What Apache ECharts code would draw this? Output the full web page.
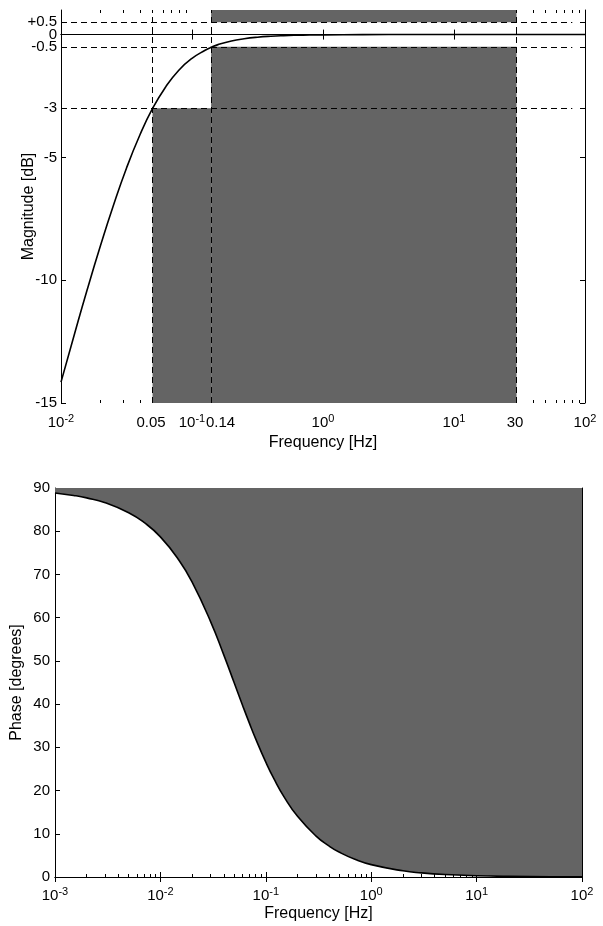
<!DOCTYPE html>
<html>
<head>
<meta charset="utf-8">
<script src="https://cdn.jsdelivr.net/npm/echarts@6/dist/echarts.min.js"></script>
<style>
html,body{margin:0;padding:0;background:#fff;}
#chart{width:603px;height:926px;}
</style>
</head>
<body>
<div id="chart"></div>
<script>
// ---- Magnitude response (top) ----
var magFreq = [0.01, 0.0126, 0.0158, 0.02, 0.025, 0.0316, 0.04, 0.05, 0.063, 0.079, 0.1, 0.126, 0.14, 0.158, 0.2, 0.25, 0.316, 0.4, 0.5, 0.63, 0.79, 1, 2, 5, 10, 30, 100];
var magDb   = [-14.15, -12.24, -10.41, -8.6, -6.99, -5.44, -4.09, -3.01, -2.13, -1.46, -0.97, -0.64, -0.52, -0.41, -0.26, -0.17, -0.107, -0.067, -0.043, -0.027, -0.017, -0.011, -0.003, 0, 0, 0, 0];

// ---- Phase response (bottom) ----
var phaseFreq = [0.001, 0.0015, 0.002, 0.003, 0.005, 0.007, 0.01, 0.015, 0.02, 0.03, 0.04, 0.05, 0.06, 0.07, 0.08, 0.1, 0.12, 0.15, 0.2, 0.3, 0.4, 0.5, 0.7, 1, 2, 3, 5, 10, 20, 50, 100];
var phaseDeg  = [88.85, 88.28, 87.71, 86.57, 84.29, 82.03, 78.69, 73.3, 68.2, 59.04, 51.34, 45, 39.81, 35.54, 32.01, 26.57, 22.62, 18.43, 14.04, 9.46, 7.13, 5.71, 4.09, 2.86, 1.43, 0.95, 0.57, 0.29, 0.14, 0.057, 0.029];

// ---- Tolerance mask (grey forbidden zones) [fLow, fHigh, dbLow, dbHigh] ----
var maskZones = [[0.05, 0.14, -15, -3], [0.14, 30, -15, -0.5], [0.14, 30, 0.5, 1]];
// dashed guide lines
var hGuides = [0.5, -0.5, -3];      // dB
var hGuideEnd = 80;                 // Hz
var vGuides = [0.05, 0.14, 30];     // Hz

// ---- Tick labels ----
var magXTicks = [0.01, 0.05, 0.1, 0.14, 1, 10, 30, 100];
var magYTicks = [-15, -10, -5, -3, -0.5, 0, 0.5];
var magYLabelOrder = [0.5, -3, 0, -15, -10, -5, -0.5];
var phaseXTicks = [0.001, 0.01, 0.1, 1, 10, 100];
var phaseYMin = 0, phaseYMax = 90, phaseYStep = 10;
var magYMin = -15, magYMax = 1;

function minorTicks(lo, hi) {
  var out = [];
  for (var e = lo; e < hi; e++) {
    for (var m = 2; m <= 9; m++) out.push(m * Math.pow(10, e));
  }
  return out;
}
var magMinor = minorTicks(-2, 2);
var phaseMinor = minorTicks(-3, 2);
var magMajor = [0.01, 0.1, 1, 10, 100];

var FONT = '"Liberation Sans", Arial, sans-serif';
var TITLE = {fontSize: 16, fontFamily: FONT, color: '#000'};
var rich = {
  b: {fontSize: 15, fontFamily: FONT, color: '#000'},
  s: {fontSize: 11, fontFamily: FONT, color: '#000', padding: [0, 0, 9, 0]},
  o: {fontSize: 15, fontFamily: FONT, color: '#000', padding: [0, 0, 0, 22]}
};
function xFmt(v) {
  var e = Math.round(Math.log(v) / Math.LN10);
  if (Math.abs(v - Math.pow(10, e)) < 1e-9 * v) return '{b|10}{s|' + e + '}';
  if (Math.abs(v - 0.14) < 1e-9) return '{o|0.14}{s| }';
  return '{b|' + v + '}{s| }';
}

var AXC = '#000';
function logX(grid, min, max, opts) {
  var base = {
    type: 'log', gridIndex: grid, min: min, max: max, logBase: 10,
    position: opts.position,
    axisLine: {show: opts.line, lineStyle: {color: AXC, width: 1}},
    axisTick: {show: true, inside: true, length: opts.len, customValues: opts.ticks, lineStyle: {color: AXC}},
    axisLabel: {show: false},
    splitLine: {show: false}, minorTick: {show: false}, minorSplitLine: {show: false}
  };
  if (opts.labels) {
    base.axisLabel = {show: true, customValues: opts.labels, formatter: xFmt, rich: rich, margin: opts.margin,
      color: '#000', hideOverlap: false, showMinLabel: true, showMaxLabel: true};
    base.name = 'Frequency [Hz]';
    base.nameLocation = 'middle';
    base.nameGap = opts.nameGap;
    base.nameMoveOverlap = false;
    base.nameTextStyle = TITLE;
  }
  return base;
}

var xAxes = [
  logX(0, 0.01, 100, {position: 'bottom', line: true, len: 5, ticks: magXTicks, labels: magXTicks, margin: 10, nameGap: 32}),
  logX(0, 0.01, 100, {position: 'top', line: true, len: 5, ticks: magMajor}),
  logX(0, 0.01, 100, {position: 'bottom', line: false, len: 3, ticks: magMinor}),
  logX(0, 0.01, 100, {position: 'top', line: false, len: 3, ticks: magMinor}),
  logX(1, 0.001, 100, {position: 'bottom', line: true, len: 5, ticks: phaseXTicks, labels: phaseXTicks, margin: 9, nameGap: 29}),
  logX(1, 0.001, 100, {position: 'top', line: true, len: 5, ticks: phaseXTicks}),
  logX(1, 0.001, 100, {position: 'bottom', line: false, len: 3, ticks: phaseMinor}),
  logX(1, 0.001, 100, {position: 'top', line: false, len: 3, ticks: phaseMinor})
];

var yAxes = [
  {type: 'value', gridIndex: 0, min: magYMin, max: magYMax, position: 'left',
   name: 'Magnitude [dB]', nameLocation: 'middle', nameGap: 24, nameMoveOverlap: false,
   nameTextStyle: TITLE,
   axisLine: {show: true, lineStyle: {color: AXC}},
   axisTick: {show: true, inside: true, length: 5, customValues: magYTicks, lineStyle: {color: AXC}},
   axisLabel: {customValues: magYLabelOrder, margin: 4, fontSize: 15, lineHeight: 10, fontFamily: FONT, color: '#000',
     hideOverlap: false,
     formatter: function (v) { return v > 0 ? '+' + v : String(v); }},
   splitLine: {show: false}},
  {type: 'value', gridIndex: 0, min: magYMin, max: magYMax, position: 'right',
   axisLine: {show: true, lineStyle: {color: AXC}},
   axisTick: {show: true, inside: true, length: 5, customValues: magYTicks, lineStyle: {color: AXC}},
   axisLabel: {show: false}, splitLine: {show: false}},
  {type: 'value', gridIndex: 1, min: phaseYMin, max: phaseYMax, interval: phaseYStep, position: 'left',
   name: 'Phase [degrees]', nameLocation: 'middle', nameGap: 30, nameMoveOverlap: false,
   nameTextStyle: TITLE,
   axisLine: {show: true, lineStyle: {color: AXC}},
   axisTick: {show: true, inside: true, length: 5, lineStyle: {color: AXC}},
   axisLabel: {margin: 5, fontSize: 15, fontFamily: FONT, color: '#000'},
   splitLine: {show: false}},
  {type: 'value', gridIndex: 1, min: phaseYMin, max: phaseYMax, interval: phaseYStep, position: 'right',
   axisLine: {show: true, lineStyle: {color: AXC}},
   axisTick: {show: true, inside: true, length: 5, lineStyle: {color: AXC}},
   axisLabel: {show: false}, splitLine: {show: false}}
];

var GREY = '#646464';
var magData = magFreq.map(function (f, i) { return [f, magDb[i]]; });
var phaseData = phaseFreq.map(function (f, i) { return [f, phaseDeg[i]]; });

var areaData = maskZones.map(function (z) {
  return [{coord: [z[0], z[2]]}, {coord: [z[1], z[3]]}];
});
var lineData = [];
hGuides.forEach(function (y) { lineData.push([{coord: [magFreq[0], y]}, {coord: [hGuideEnd, y]}]); });
vGuides.forEach(function (x) { lineData.push([{coord: [x, magYMin]}, {coord: [x, magYMax]}]); });

var option = {
  animation: false,
  backgroundColor: '#fff',
  grid: [
    {left: 61, top: 10, width: 524, height: 393},
    {left: 55, top: 488, width: 527, height: 389}
  ],
  xAxis: xAxes,
  yAxis: yAxes,
  series: [
    {type: 'line', xAxisIndex: 0, yAxisIndex: 0, data: [], z: 1, silent: true,
     markArea: {silent: true, itemStyle: {color: GREY, opacity: 1}, label: {show: false}, data: areaData}},
    {type: 'line', xAxisIndex: 0, yAxisIndex: 0, data: [], z: 2, silent: true,
     markLine: {silent: true, symbol: 'none', label: {show: false},
       lineStyle: {type: [6, 4], color: '#000', width: 1}, data: lineData}},
    {type: 'line', xAxisIndex: 0, yAxisIndex: 0, data: magData, z: 3, smooth: true,
     showSymbol: false, symbol: 'none', lineStyle: {color: '#000', width: 1.6}},
    {type: 'line', xAxisIndex: 4, yAxisIndex: 2, data: phaseData, z: 3, smooth: true,
     showSymbol: false, symbol: 'none', lineStyle: {color: '#000', width: 1.6},
     areaStyle: {origin: 'end', color: GREY, opacity: 1}}
  ]
};
var chart = echarts.init(document.getElementById('chart'), null, {renderer: 'canvas'});
chart.setOption(option);
</script>
</body>
</html>
